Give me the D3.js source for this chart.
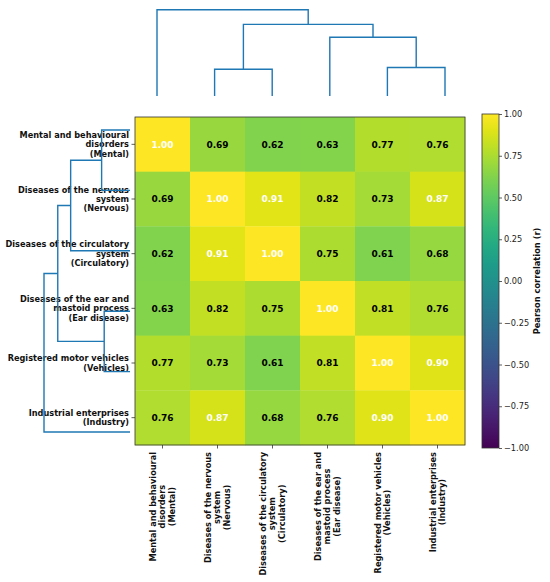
<!DOCTYPE html>
<html><head><meta charset="utf-8">
<script src="https://cdn.jsdelivr.net/npm/d3@7"></script>
<style>body{margin:0;background:#fff}svg{font-family:"DejaVu Sans",sans-serif}</style>
</head><body>
<svg id="c" width="550" height="582"></svg>
<script>
const labels = [
  ["Mental and behavioural","disorders","(Mental)"],
  ["Diseases of the nervous","system","(Nervous)"],
  ["Diseases of the circulatory","system","(Circulatory)"],
  ["Diseases of the ear and","mastoid process","(Ear disease)"],
  ["Registered motor vehicles","(Vehicles)"],
  ["Industrial enterprises","(Industry)"]
];
const matrix = [
  [1.00,0.69,0.62,0.63,0.77,0.76],
  [0.69,1.00,0.91,0.82,0.73,0.87],
  [0.62,0.91,1.00,0.75,0.61,0.68],
  [0.63,0.82,0.75,1.00,0.81,0.76],
  [0.77,0.73,0.61,0.81,1.00,0.90],
  [0.76,0.87,0.68,0.76,0.90,1.00]
];
// linkage rows: [childA, childB, height]; leaves 0..5, clusters 6+
const topLinkage = [[1,2,0.31],[4,5,0.33],[3,7,0.68],[6,8,0.83],[0,9,1.00]];
const leftLinkage = [[0,1,0.33],[6,2,0.69],[3,4,0.30],[7,8,0.84],[9,5,1.00]];
const cbTicks = [1.00,0.75,0.50,0.25,0.00,-0.25,-0.50,-0.75,-1.00];
const cbLabel = "Pearson correlation (r)";

const svg = d3.select("#c");
const n = matrix.length;
const idx = d3.range(n);
const x = d3.scaleBand().domain(idx).range([135,465]);
const y = d3.scaleBand().domain(idx).range([117,445]);
const color = d3.scaleSequential(d3.interpolateViridis).domain([-1,1]);

// cells
const g = svg.append("g");
matrix.forEach((row,i)=>row.forEach((v,j)=>{
  g.append("rect").attr("x",x(j)).attr("y",y(i)).attr("width",x.bandwidth()+0.3).attr("height",y.bandwidth()+0.3).attr("fill",color(v));
  g.append("text").attr("x",x(j)+x.bandwidth()/2).attr("y",y(i)+y.bandwidth()/2).attr("dy","0.36em")
   .attr("text-anchor","middle").attr("font-size",9).attr("font-weight","bold")
   .attr("fill",v>0.85?"#fff":"#000").text(v.toFixed(2));
}));
svg.append("rect").attr("x",135).attr("y",117).attr("width",330).attr("height",328).attr("fill","none").attr("stroke","#333").attr("stroke-width",0.8);

// row labels
const fs = 8.2, lh = 9.3;
idx.forEach(i=>{
  const cy = y(i)+y.bandwidth()/2;
  svg.append("line").attr("x1",131.5).attr("x2",135).attr("y1",cy).attr("y2",cy).attr("stroke","#333").attr("stroke-width",0.8);
  const t = svg.append("text").attr("text-anchor","end").attr("font-size",fs).attr("font-weight","bold").attr("fill","#111");
  const L = labels[i];
  L.forEach((s,k)=>t.append("tspan").attr("x",129).attr("y",cy+(k-(L.length-1)/2)*lh).attr("dy","0.36em").text(s));
});
// column labels (lines centred, block ends at top)
idx.forEach(j=>{
  const cx = x(j)+x.bandwidth()/2;
  svg.append("line").attr("x1",cx).attr("x2",cx).attr("y1",445).attr("y2",448.5).attr("stroke","#333").attr("stroke-width",0.8);
  const gg = svg.append("g").attr("transform",`translate(${cx},452) rotate(-90)`);
  const t = gg.append("text").attr("text-anchor","middle").attr("font-size",fs).attr("font-weight","bold").attr("fill","#111");
  const L = labels[j];
  const sp = L.map((s,k)=>t.append("tspan").attr("y",(k-(L.length-1)/2)*lh).attr("dy","0.36em").text(s));
  const w = d3.max(sp, s=>s.node().getComputedTextLength());
  sp.forEach(s=>s.attr("x",-w/2));
});

// dendrograms
function dendro(linkage, leafPos, hPos, vertical){
  const pos = {}, hgt = {};
  idx.forEach(i=>{pos[i]=leafPos(i); hgt[i]=0;});
  const path = d3.path();
  linkage.forEach(([a,b,h],k)=>{
    const id = n+k;
    pos[id] = (pos[a]+pos[b])/2; hgt[id]=h;
    if(vertical){
      path.moveTo(pos[a],hPos(hgt[a])); path.lineTo(pos[a],hPos(h)); path.lineTo(pos[b],hPos(h)); path.lineTo(pos[b],hPos(hgt[b]));
    } else {
      path.moveTo(hPos(hgt[a]),pos[a]); path.lineTo(hPos(h),pos[a]); path.lineTo(hPos(h),pos[b]); path.lineTo(hPos(hgt[b]),pos[b]);
    }
  });
  svg.append("path").attr("d",path.toString()).attr("fill","none").attr("stroke","#1f77b4").attr("stroke-width",1.4);
}
dendro(topLinkage, d3.scaleLinear().domain([0,n-1]).range([157,445]), d3.scaleLinear().domain([0,1]).range([96,9.7]), true);
dendro(leftLinkage, d3.scaleLinear().domain([0,n-1]).range([130,432]), d3.scaleLinear().domain([0,1]).range([130,44]), false);

// colorbar
const cy = d3.scaleLinear().domain([-1,1]).range([448,114]);
const grad = svg.append("defs").append("linearGradient").attr("id","vg").attr("x1",0).attr("y1",1).attr("x2",0).attr("y2",0);
d3.range(0,1.0001,0.05).forEach(t=>grad.append("stop").attr("offset",t).attr("stop-color",d3.interpolateViridis(t)));
svg.append("rect").attr("x",482).attr("y",114).attr("width",17).attr("height",334).attr("fill","url(#vg)").attr("stroke","#333").attr("stroke-width",0.8);
const ax = svg.append("g").attr("transform","translate(499,0)")
  .call(d3.axisRight(cy).tickValues(cbTicks).tickSize(3).tickPadding(2).tickFormat(d=>d3.format(".2f")(d).replace("-","\u2212")));
ax.select(".domain").remove();
ax.selectAll("text").attr("font-size",8.2).attr("font-family","DejaVu Sans").attr("fill","#222");
ax.selectAll("line").attr("stroke","#333").attr("stroke-width",0.8);
svg.append("text").attr("transform",`translate(540,${(114+448)/2}) rotate(-90)`).attr("text-anchor","middle")
  .attr("font-size",8.3).attr("font-weight","bold").attr("fill","#111").text(cbLabel);
</script>
</body></html>
